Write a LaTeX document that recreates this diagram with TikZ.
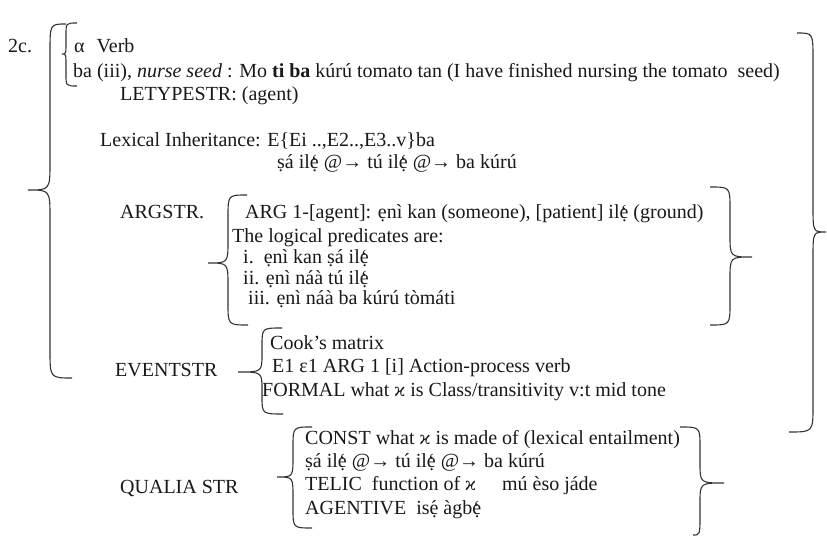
\documentclass[tikz,border=0pt]{standalone}
\usepackage{fontspec}
\setmainfont{Liberation Serif}
\newfontfamily\dvsfont{DejaVu Serif}
\newcommand{\kapsym}{{\dvsfont\fontsize{17.5}{20}\selectfont ϰ}}
\newcommand{\eg}{\smash{\accent"60 ẹ}}
\newcommand{\ea}{\smash{\accent"B4 ẹ}}
\newcommand{\mybrace}[8]{%
  \draw[bracepath] (#1,#2) .. controls (#3,#2) .. (#3,{#2+#8}) -- (#3,{#5-#8})
    .. controls (#3,#5) .. (#4,#5) .. controls (#3,#5) .. (#3,{#5+#8})
    -- (#3,{#7-#8}) .. controls (#3,#7) .. (#6,#7);}
\begin{document}
\begin{tikzpicture}[x=1pt,y=-1pt,
  txt/.style={anchor=base west,inner sep=0pt,text=black!90,font=\fontsize{20}{23}\selectfont},
  bracepath/.style={draw=black!80,line width=1.1pt}]
\useasboundingbox[fill=white] (0,0) rectangle (827,537);
% braces
\mybrace{66}{24}{50}{28}{190}{72}{378}{28}
\mybrace{77}{23}{66}{62}{54}{77}{86}{12}
\mybrace{797}{33}{813}{826}{232}{789}{432}{26}
\mybrace{247}{195}{228}{208}{263}{248}{325}{22}
\mybrace{710}{187}{730}{752}{257}{710}{325}{22}
\mybrace{282}{328}{262}{238}{372}{283}{414}{18}
\mybrace{312}{427}{293}{277}{477}{312}{528}{20}
\mybrace{680}{427}{700}{724}{483}{693}{535}{20}
% texts
\node[txt] (n2c) at (8,53) {2c.};
\node[txt] (alpha) at (74,53) {α\hspace{0.6em}Verb};
\node[txt] (ba) at (73,78) {ba (iii), \textit{nurse seed} : Mo \textbf{ti} \textbf{ba} kúrú tomato tan (I have finished nursing the tomato\ \ seed)};
\node[txt] (lety) at (120,101) {LETYPESTR: (agent)};
\node[txt] (lex) at (100,147) {Lexical Inheritance: E\{Ei ..,E2..,E3..v\}ba};
\node[txt] (lex2) at (277,169) {ṣá il\eg{} @→ tú il\eg{} @→ ba kúrú};
\node[txt] (argstr) at (120,219) {ARGSTR.};
\node[txt] (arg1) at (245,219) {ARG 1-[agent]: ẹnì kan (someone), [patient] il\eg{} (ground)};
\node[txt] (logic) at (232,243) {The logical predicates are:};
\node[txt] (pi) at (243,264) {i.\ \ ẹnì kan ṣá il\eg};
\node[txt] (pii) at (243,284) {ii. ẹnì náà tú il\eg};
\node[txt] (piii) at (248,305) {iii. ẹnì náà ba kúrú tòmáti};
\node[txt] (eventstr) at (115,376) {EVENTSTR};
\node[txt] (cook) at (270,349) {Cook’s matrix};
\node[txt] (e1) at (272,372) {E1 ε1 ARG 1 [i] Action-process verb};
\node[txt] (formal) at (262,396) {FORMAL what \kapsym{} is Class/transitivity v:t mid tone};
\node[txt] (qualia) at (120,493) {QUALIA STR};
\node[txt] (const) at (305,444) {CONST what \kapsym{} is made of (lexical entailment)};
\node[txt] (q2) at (305,467) {ṣá il\eg{} @→ tú il\eg{} @→ ba kúrú};
\node[txt] (telic) at (305,490) {TELIC\ \ function of \kapsym\hspace{1.3em}mú èso jáde};
\node[txt] (agent) at (305,514) {AGENTIVE\ \ is\ea{} àgb\eg};
\end{tikzpicture}
\end{document}
